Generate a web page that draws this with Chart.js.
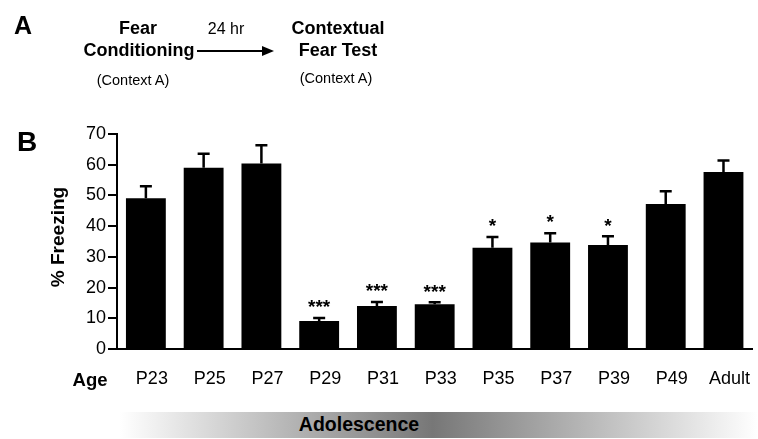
<!DOCTYPE html>
<html>
<head>
<meta charset="utf-8">
<script src="https://cdn.jsdelivr.net/npm/chart.js@4"></script>
<style>
  html, body { margin: 0; padding: 0; background: #fff; }
  #wrap {
    position: relative;
    width: 758px;
    height: 439px;
    overflow: hidden;
    font-family: "Liberation Sans", Arial, Helvetica, sans-serif;
    color: #000;
  }
  #chartBox { position: absolute; left: 0; top: 0; width: 763px; height: 439px; }
  .t {
    position: absolute;
    transform: translate(-50%, -50%);
    white-space: nowrap;
    line-height: 1;
  }
  .b { font-weight: bold; }
  #arrow {
    position: absolute;
    left: 197px;
    top: 50px;
    width: 66px;
    height: 0;
    border-top: 2.5px solid #000;
  }
  #arrowHead {
    position: absolute;
    left: 262px;
    top: 46px;
    width: 0;
    height: 0;
    border-top: 5.5px solid transparent;
    border-bottom: 5.5px solid transparent;
    border-left: 12px solid #000;
  }
  #band {
    position: absolute;
    left: 120px;
    top: 412px;
    width: 638px;
    height: 26px;
    background: linear-gradient(to right, #fff 0%, #777 49%, #fff 100%);
  }
</style>
</head>
<body>
<div id="wrap">
  <div id="chartBox"><canvas id="freezeChart"></canvas></div>

  <!-- panel A -->
  <div class="t b" style="left:23px;top:25px;font-size:25px;">A</div>
  <div class="t b" style="left:138px;top:28px;font-size:18px;">Fear</div>
  <div class="t b" style="left:139px;top:50px;font-size:18px;">Conditioning</div>
  <div class="t" style="left:133px;top:80px;font-size:14.5px;">(Context A)</div>
  <div class="t" style="left:226px;top:29px;font-size:16px;">24 hr</div>
  <div id="arrow"></div>
  <div id="arrowHead"></div>
  <div class="t b" style="left:338px;top:28px;font-size:18px;">Contextual</div>
  <div class="t b" style="left:338px;top:50px;font-size:18px;">Fear Test</div>
  <div class="t" style="left:336px;top:78px;font-size:14.5px;">(Context A)</div>

  <!-- panel B -->
  <div class="t b" style="left:27px;top:142px;font-size:28px;">B</div>
  <div class="t b" style="left:57px;top:237px;font-size:19px;transform:translate(-50%,-50%) rotate(-90deg);">% Freezing</div>
  <div class="t b" style="left:90px;top:380px;font-size:18.5px;">Age</div>

  <div id="band"></div>
  <div class="t b" style="left:359px;top:425px;font-size:19.5px;">Adolescence</div>
</div>

<script>
// data
const ages = ["P23", "P25", "P27", "P29", "P31", "P33", "P35", "P37", "P39", "P49", "Adult"];
const freezing = [49.1, 59.0, 60.4, 9.1, 14.0, 14.6, 33.0, 34.7, 33.9, 47.2, 57.6];
const sem = [3.9, 4.6, 5.9, 1.0, 1.3, 0.6, 3.5, 3.0, 2.8, 4.2, 3.8];
const stars = ["", "", "", "***", "***", "***", "*", "*", "*", "", ""];
const yTicks = [0, 10, 20, 30, 40, 50, 60, 70];

Chart.defaults.font.family = '"Liberation Sans", Arial, Helvetica, sans-serif';
Chart.defaults.color = "#000";

// upper error whiskers + significance stars
const errorBars = {
  id: "errorBars",
  afterDatasetsDraw(chart) {
    const ctx = chart.ctx;
    const x = chart.scales.x;
    const y = chart.scales.y;
    ctx.save();
    ctx.strokeStyle = "#000";
    ctx.fillStyle = "#000";
    ctx.lineWidth = 2.5;
    ctx.font = 'bold 19px "Liberation Sans", Arial, sans-serif';
    ctx.textAlign = "center";
    ctx.textBaseline = "middle";
    freezing.forEach((v, i) => {
      const px = x.getPixelForValue(i);
      const top = y.getPixelForValue(v + sem[i]);
      const base = y.getPixelForValue(v);
      ctx.beginPath();
      ctx.moveTo(px, base);
      ctx.lineTo(px, top);
      ctx.moveTo(px - 6, top);
      ctx.lineTo(px + 6, top);
      ctx.stroke();
      if (stars[i]) {
        ctx.fillText(stars[i], px, top - 10);
      }
    });
    ctx.restore();
  },
};

const ctx = document.getElementById("freezeChart").getContext("2d");
const freezeChart = new Chart(ctx, {
  type: "bar",
  data: {
    labels: ages,
    datasets: [
      {
        label: "% Freezing",
        data: freezing,
        backgroundColor: "#000",
        borderWidth: 0,
        barPercentage: 0.69,
        categoryPercentage: 1,
      },
    ],
  },
  options: {
    responsive: true,
    maintainAspectRatio: false,
    animation: false,
    layout: { padding: { top: 134, right: 0, bottom: 0, left: 0 } },
    plugins: {
      legend: { display: false },
      tooltip: { enabled: false },
    },
    scales: {
      x: {
        grid: { display: false, drawTicks: false },
        border: { display: true, color: "#000", width: 2 },
        ticks: { font: { size: 18 }, color: "#000", padding: 19, labelOffset: 6, maxRotation: 0, autoSkip: false },
        afterFit: (s) => { s.height = 90; },
      },
      y: {
        min: 0,
        max: 70,
        afterBuildTicks: (s) => { s.ticks = yTicks.map((v) => ({ value: v })); },
        grid: { drawOnChartArea: false, drawTicks: true, tickLength: 9, color: "#000", lineWidth: 2 },
        border: { display: true, color: "#000", width: 2 },
        ticks: { font: { size: 18 }, color: "#000", padding: 2 },
        afterFit: (s) => { s.width = 117; },
      },
    },
  },
  plugins: [errorBars],
});
</script>
</body>
</html>
